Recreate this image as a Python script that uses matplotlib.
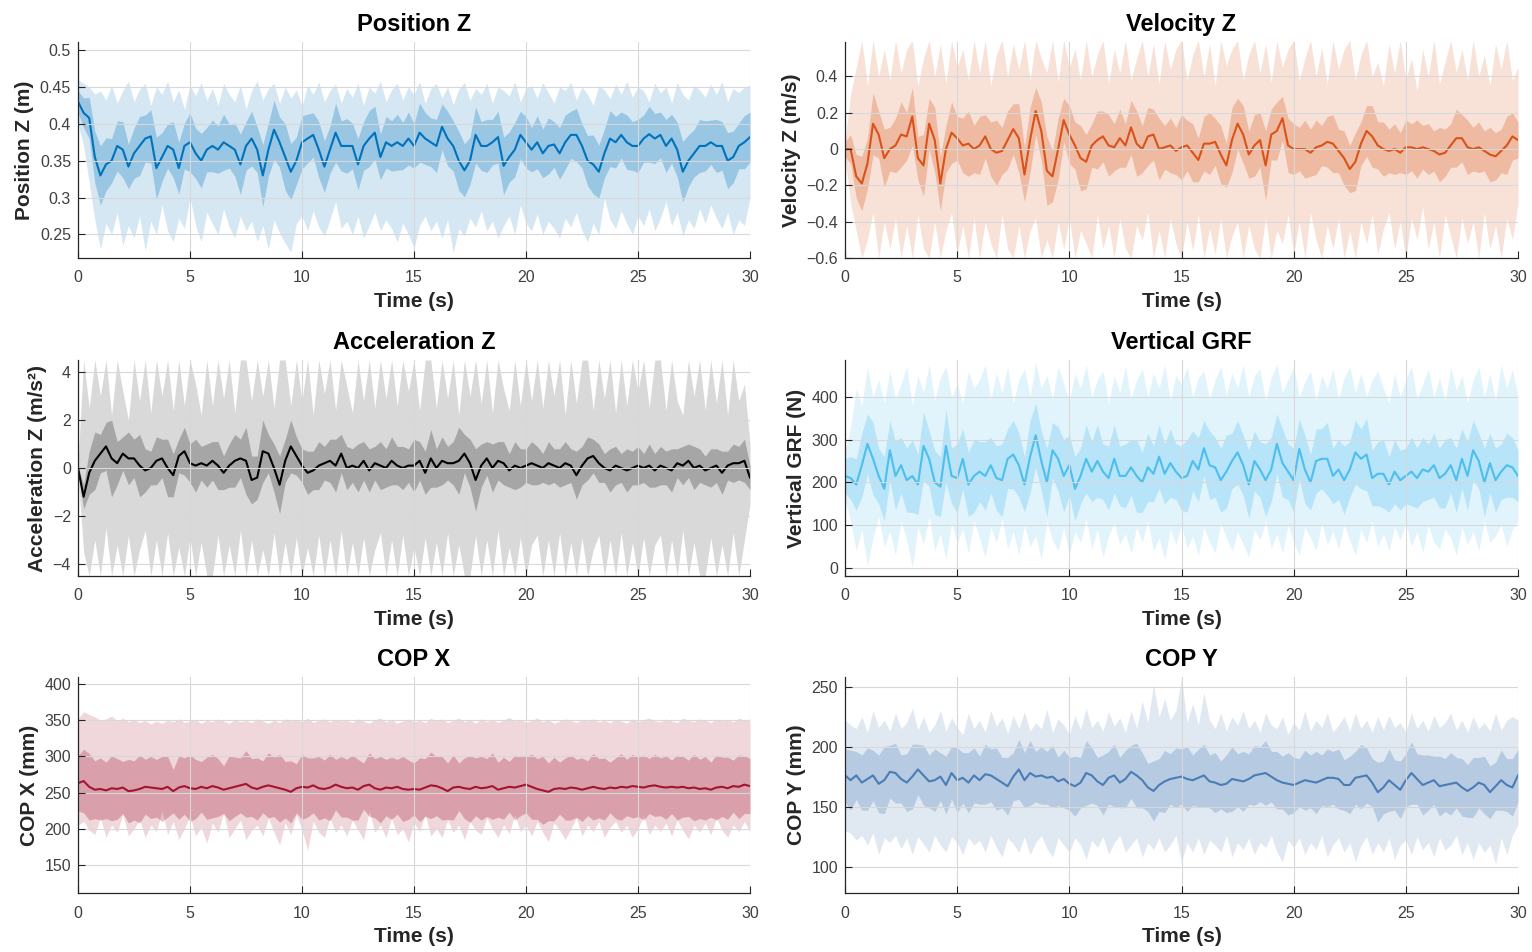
import numpy as np
import matplotlib
matplotlib.use("Agg")
import matplotlib.pyplot as plt

plt.rcParams['font.family'] = ['Liberation Sans', 'DejaVu Sans']

# ---------------- data (sampled every 0.25 s, 0..30 s) ----------------
pos_mean = [0.430, 0.415, 0.408, 0.355, 0.330, 0.345, 0.350, 0.370,
            0.365, 0.342, 0.360, 0.370, 0.380, 0.383, 0.340, 0.355,
            0.370, 0.365, 0.340, 0.370, 0.375, 0.360, 0.350, 0.365,
            0.370, 0.365, 0.375, 0.370, 0.365, 0.345, 0.370, 0.380,
            0.365, 0.330, 0.365, 0.392, 0.375, 0.355, 0.335, 0.350,
            0.375, 0.380, 0.385, 0.365, 0.342, 0.365, 0.388, 0.370,
            0.370, 0.370, 0.345, 0.370, 0.380, 0.388, 0.355, 0.375,
            0.370, 0.375, 0.370, 0.380, 0.370, 0.388, 0.380, 0.375,
            0.370, 0.396, 0.380, 0.370, 0.350, 0.337, 0.350, 0.385,
            0.370, 0.370, 0.375, 0.382, 0.343, 0.355, 0.365, 0.385,
            0.375, 0.365, 0.375, 0.360, 0.370, 0.372, 0.360, 0.375,
            0.385, 0.385, 0.370, 0.350, 0.345, 0.335, 0.360, 0.380,
            0.375, 0.385, 0.375, 0.370, 0.370, 0.380, 0.386, 0.380,
            0.385, 0.370, 0.380, 0.365, 0.335, 0.350, 0.360, 0.370,
            0.370, 0.375, 0.370, 0.370, 0.350, 0.355, 0.370, 0.375,
            0.382]
pos_sd = [0.015, 0.020, 0.028, 0.035, 0.040, 0.036, 0.030, 0.034,
          0.038, 0.030, 0.034, 0.040, 0.032, 0.036, 0.042, 0.033,
          0.030, 0.038, 0.035, 0.031, 0.040, 0.034, 0.037, 0.030,
          0.035, 0.032, 0.038, 0.030, 0.036, 0.041, 0.033, 0.037,
          0.031, 0.042, 0.036, 0.040, 0.034, 0.045, 0.038, 0.032,
          0.036, 0.033, 0.030, 0.038, 0.035, 0.032, 0.040, 0.034,
          0.037, 0.031, 0.035, 0.033, 0.038, 0.036, 0.031, 0.035,
          0.034, 0.038, 0.032, 0.036, 0.030, 0.040, 0.035, 0.033,
          0.036, 0.031, 0.037, 0.034, 0.040, 0.036, 0.032, 0.038,
          0.033, 0.036, 0.031, 0.035, 0.039, 0.034, 0.037, 0.032,
          0.035, 0.030, 0.036, 0.033, 0.038, 0.031, 0.035, 0.037,
          0.032, 0.036, 0.030, 0.034, 0.040, 0.036, 0.033, 0.038,
          0.035, 0.031, 0.037, 0.033, 0.036, 0.032, 0.038, 0.034,
          0.031, 0.036, 0.033, 0.037, 0.041, 0.035, 0.032, 0.036,
          0.034, 0.030, 0.036, 0.033, 0.038, 0.035, 0.031, 0.036,
          0.034]
pos_hi = [0.460, 0.455, 0.450, 0.440, 0.445, 0.432, 0.452, 0.428,
          0.445, 0.458, 0.430, 0.447, 0.455, 0.425, 0.450, 0.440,
          0.458, 0.430, 0.446, 0.420, 0.452, 0.438, 0.456, 0.432,
          0.448, 0.425, 0.455, 0.440, 0.430, 0.452, 0.420, 0.445,
          0.458, 0.432, 0.448, 0.455, 0.428, 0.450, 0.435, 0.446,
          0.424, 0.452, 0.440, 0.457, 0.430, 0.445, 0.454, 0.428,
          0.448, 0.436, 0.455, 0.425, 0.450, 0.442, 0.458, 0.430,
          0.446, 0.455, 0.432, 0.450, 0.440, 0.457, 0.428, 0.448,
          0.455, 0.435, 0.450, 0.426, 0.447, 0.456, 0.432, 0.448,
          0.440, 0.455, 0.428, 0.450, 0.445, 0.438, 0.457, 0.430,
          0.448, 0.452, 0.435, 0.456, 0.442, 0.428, 0.450, 0.445,
          0.456, 0.432, 0.450, 0.440, 0.425, 0.452, 0.446, 0.434,
          0.454, 0.440, 0.458, 0.436, 0.450, 0.445, 0.430, 0.455,
          0.442, 0.450, 0.428, 0.456, 0.440, 0.432, 0.452, 0.446,
          0.436, 0.454, 0.440, 0.457, 0.430, 0.448, 0.442, 0.450,
          0.452]
pos_lo = [0.400, 0.370, 0.320, 0.270, 0.230, 0.265, 0.250, 0.280,
          0.235, 0.262, 0.245, 0.275, 0.228, 0.268, 0.250, 0.290,
          0.255, 0.240, 0.272, 0.258, 0.300, 0.262, 0.240, 0.280,
          0.265, 0.250, 0.285, 0.260, 0.245, 0.275, 0.255, 0.268,
          0.240, 0.262, 0.230, 0.270, 0.252, 0.238, 0.226, 0.265,
          0.275, 0.255, 0.282, 0.260, 0.248, 0.270, 0.295, 0.258,
          0.268, 0.250, 0.275, 0.245, 0.262, 0.280, 0.255, 0.270,
          0.258, 0.240, 0.265, 0.250, 0.232, 0.262, 0.275, 0.255,
          0.268, 0.245, 0.270, 0.225, 0.258, 0.248, 0.272, 0.260,
          0.282, 0.255, 0.268, 0.245, 0.262, 0.275, 0.250, 0.290,
          0.265, 0.255, 0.278, 0.250, 0.268, 0.258, 0.245, 0.272,
          0.260, 0.280, 0.255, 0.240, 0.265, 0.250, 0.300, 0.270,
          0.258, 0.282, 0.265, 0.250, 0.275, 0.262, 0.285, 0.255,
          0.272, 0.295, 0.262, 0.280, 0.248, 0.270, 0.258, 0.285,
          0.265, 0.290, 0.272, 0.258, 0.280, 0.250, 0.270, 0.262,
          0.300]

vel_mean = [0.00, 0.00, -0.15, -0.19, -0.08, 0.14, 0.08, -0.05,
            0.00, 0.02, 0.08, 0.07, 0.18, -0.05, -0.09, 0.14,
            0.05, -0.19, 0.00, 0.09, 0.06, 0.02, 0.03, 0.00,
            0.02, 0.07, 0.00, -0.02, -0.01, 0.05, 0.11, 0.06,
            -0.14, 0.05, 0.21, 0.10, -0.12, -0.15, 0.00, 0.16,
            0.08, 0.02, -0.05, -0.07, 0.02, 0.05, 0.07, 0.02,
            0.01, 0.06, 0.02, 0.12, 0.03, 0.00, 0.07, 0.08,
            0.00, 0.01, 0.02, -0.01, 0.01, 0.02, -0.02, -0.06,
            0.03, 0.03, 0.04, -0.03, -0.09, 0.05, 0.14, 0.08,
            -0.03, 0.02, 0.05, -0.09, 0.08, 0.10, 0.17, 0.02,
            0.00, 0.00, 0.00, -0.02, 0.01, 0.02, 0.04, 0.03,
            -0.01, -0.05, -0.11, -0.07, 0.03, 0.10, 0.07, 0.02,
            0.00, -0.01, 0.00, -0.02, 0.01, 0.01, 0.00, 0.01,
            0.00, -0.01, -0.03, -0.02, 0.02, 0.06, 0.06, 0.01,
            0.00, 0.01, -0.01, -0.03, -0.04, -0.01, 0.02, 0.07,
            0.05]
vel_sd = [0.04, 0.08, 0.12, 0.15, 0.14, 0.17, 0.13, 0.16,
          0.12, 0.15, 0.18, 0.13, 0.16, 0.12, 0.17, 0.14,
          0.18, 0.15, 0.13, 0.17, 0.12, 0.15, 0.18, 0.13,
          0.16, 0.12, 0.15, 0.18, 0.13, 0.16, 0.14, 0.19,
          0.15, 0.18, 0.13, 0.16, 0.19, 0.14, 0.17, 0.12,
          0.16, 0.13, 0.18, 0.15, 0.12, 0.16, 0.14, 0.17,
          0.13, 0.16, 0.12, 0.15, 0.18, 0.13, 0.16, 0.14,
          0.17, 0.12, 0.15, 0.13, 0.18, 0.14, 0.16, 0.12,
          0.15, 0.17, 0.13, 0.16, 0.12, 0.18, 0.14, 0.16,
          0.13, 0.17, 0.15, 0.19, 0.14, 0.16, 0.12, 0.15,
          0.14, 0.12, 0.16, 0.13, 0.15, 0.11, 0.14, 0.16,
          0.12, 0.15, 0.13, 0.16, 0.12, 0.14, 0.17, 0.13,
          0.15, 0.12, 0.14, 0.11, 0.15, 0.13, 0.16, 0.12,
          0.14, 0.11, 0.15, 0.13, 0.12, 0.16, 0.13, 0.15,
          0.12, 0.14, 0.11, 0.15, 0.13, 0.12, 0.16, 0.13,
          0.10]
vel_hi = [0.05, 0.30, 0.45, 0.60, 0.35, 0.60, 0.40, 0.55,
          0.38, 0.60, 0.42, 0.55, 0.60, 0.35, 0.50, 0.60,
          0.40, 0.58, 0.36, 0.60, 0.45, 0.55, 0.38, 0.60,
          0.42, 0.60, 0.35, 0.52, 0.60, 0.40, 0.58, 0.44,
          0.60, 0.38, 0.60, 0.50, 0.42, 0.60, 0.37, 0.60,
          0.45, 0.55, 0.38, 0.60, 0.40, 0.52, 0.60, 0.36,
          0.55, 0.42, 0.60, 0.38, 0.50, 0.60, 0.40, 0.58,
          0.36, 0.60, 0.44, 0.55, 0.60, 0.38, 0.52, 0.60,
          0.40, 0.58, 0.35, 0.60, 0.46, 0.55, 0.60, 0.38,
          0.52, 0.60, 0.42, 0.58, 0.37, 0.60, 0.45, 0.55,
          0.60, 0.38, 0.50, 0.60, 0.40, 0.56, 0.36, 0.60,
          0.44, 0.55, 0.60, 0.38, 0.52, 0.60, 0.40, 0.48,
          0.35, 0.58, 0.42, 0.60, 0.38, 0.50, 0.32, 0.55,
          0.40, 0.60, 0.36, 0.48, 0.60, 0.42, 0.55, 0.38,
          0.60, 0.40, 0.52, 0.35, 0.58, 0.44, 0.60, 0.38,
          0.45]
vel_lo = [-0.05, -0.30, -0.45, -0.60, -0.50, -0.35, -0.60, -0.40,
          -0.55, -0.38, -0.60, -0.42, -0.60, -0.36, -0.55, -0.60,
          -0.40, -0.60, -0.45, -0.35, -0.58, -0.42, -0.60, -0.38,
          -0.60, -0.40, -0.52, -0.60, -0.36, -0.55, -0.60, -0.42,
          -0.60, -0.45, -0.38, -0.60, -0.50, -0.60, -0.40, -0.55,
          -0.38, -0.60, -0.45, -0.52, -0.60, -0.36, -0.55, -0.42,
          -0.60, -0.38, -0.55, -0.60, -0.42, -0.50, -0.35, -0.60,
          -0.45, -0.60, -0.38, -0.52, -0.60, -0.40, -0.56, -0.36,
          -0.60, -0.44, -0.58, -0.38, -0.60, -0.48, -0.40, -0.60,
          -0.42, -0.55, -0.60, -0.38, -0.60, -0.45, -0.52, -0.36,
          -0.58, -0.40, -0.60, -0.35, -0.50, -0.60, -0.42, -0.55,
          -0.38, -0.60, -0.45, -0.60, -0.40, -0.52, -0.36, -0.58,
          -0.44, -0.35, -0.55, -0.40, -0.60, -0.38, -0.50, -0.32,
          -0.55, -0.40, -0.60, -0.36, -0.48, -0.60, -0.38, -0.52,
          -0.40, -0.60, -0.35, -0.55, -0.42, -0.60, -0.38, -0.50,
          -0.30]

acc_mean = [0.0, -1.2, -0.2, 0.3, 0.6, 0.9, 0.4, 0.2,
            0.6, 0.4, 0.4, 0.1, -0.1, 0.0, 0.3, 0.4,
            0.0, -0.3, 0.5, 0.7, 0.2, 0.1, 0.2, 0.1,
            0.3, 0.1, -0.2, 0.1, 0.3, 0.4, 0.3, -0.5,
            -0.4, 0.7, 0.6, 0.0, -0.7, 0.3, 0.9, 0.5,
            0.1, -0.2, -0.1, 0.1, 0.2, 0.3, 0.1, 0.6,
            0.0, 0.1, 0.0, 0.3, -0.1, 0.2, 0.1, 0.0,
            0.3, 0.1, 0.0, 0.1, 0.1, 0.3, -0.2, 0.4,
            0.0, 0.3, 0.2, 0.2, 0.3, 0.6, 0.2, -0.5,
            0.1, 0.4, 0.0, 0.3, 0.2, -0.1, 0.1, 0.0,
            0.1, 0.2, 0.1, 0.0, 0.2, 0.1, 0.0, 0.2,
            0.1, -0.3, 0.1, 0.4, 0.5, 0.2, 0.0, -0.1,
            0.1, 0.0, -0.1, 0.0, 0.1, 0.0, 0.1, -0.1,
            0.1, 0.0, -0.1, 0.2, 0.1, 0.3, 0.0, 0.1,
            -0.1, 0.0, 0.1, -0.2, 0.1, 0.2, 0.2, 0.3,
            -0.4]
acc_sd = [0.1, 0.5, 0.9, 1.2, 0.8, 1.0, 1.6, 0.9,
          0.7, 1.1, 0.8, 1.3, 0.9, 0.7, 1.0, 0.8,
          1.2, 0.9, 0.7, 1.0, 0.8, 1.1, 0.7, 0.9,
          0.8, 1.0, 0.7, 0.9, 1.1, 0.8, 1.4, 1.0,
          0.9, 1.3, 0.8, 1.0, 1.2, 0.9, 1.1, 0.8,
          0.7, 0.9, 0.8, 1.0, 0.7, 0.9, 1.1, 0.8,
          0.9, 0.7, 1.0, 0.8, 0.9, 0.7, 1.0, 0.8,
          1.0, 0.8, 0.9, 0.7, 1.1, 0.8, 0.9, 1.2,
          0.8, 1.0, 0.7, 0.9, 1.4, 0.8, 1.0, 1.3,
          0.9, 0.7, 1.0, 0.8, 0.9, 0.7, 1.0, 0.8,
          0.7, 0.9, 0.8, 0.6, 0.9, 0.7, 0.8, 0.9,
          0.7, 1.0, 0.8, 0.9, 0.7, 0.8, 0.6, 0.9,
          0.8, 0.6, 0.9, 0.7, 0.8, 0.6, 0.9, 0.7,
          0.8, 0.7, 0.9, 0.6, 0.8, 0.7, 0.9, 0.7,
          0.6, 0.8, 0.7, 0.9, 0.6, 0.8, 0.7, 0.9,
          0.5]
acc_hi = [0.2, 4.5, 2.5, 4.5, 3.0, 4.5, 2.2, 4.5,
          3.2, 2.0, 4.5, 2.8, 4.5, 2.3, 4.5, 3.0,
          4.5, 2.4, 4.5, 2.6, 4.5, 3.5, 2.2, 4.5,
          2.6, 4.5, 2.9, 4.5, 2.3, 4.5, 4.5, 2.8,
          4.5, 3.0, 4.5, 2.5, 4.5, 4.5, 2.6, 4.5,
          2.8, 4.5, 2.2, 4.5, 3.1, 4.5, 2.4, 4.5,
          3.4, 2.3, 4.5, 2.8, 4.5, 2.5, 4.5, 2.9,
          4.5, 2.6, 4.5, 3.2, 4.5, 2.4, 4.5, 4.5,
          2.5, 4.5, 2.9, 4.5, 2.2, 4.5, 3.0, 4.5,
          2.7, 4.5, 2.3, 4.5, 3.3, 2.4, 4.5, 2.6,
          4.5, 2.8, 4.5, 2.5, 4.5, 3.0, 4.5, 2.2,
          4.5, 2.7, 4.5, 4.5, 2.4, 4.5, 2.9, 4.5,
          2.3, 4.5, 2.6, 4.5, 3.2, 4.5, 2.5, 4.5,
          4.5, 2.4, 4.5, 2.8, 2.2, 4.5, 3.0, 4.5,
          2.4, 4.5, 2.7, 4.5, 2.2, 4.5, 2.8, 3.5,
          1.0]
acc_lo = [-0.2, -3.5, -4.5, -3.0, -4.5, -2.5, -4.5, -3.2,
          -4.5, -2.8, -4.5, -3.4, -2.6, -4.5, -3.0, -4.5,
          -2.7, -4.5, -3.3, -4.5, -2.9, -4.5, -3.1, -4.5,
          -4.5, -2.8, -4.5, -3.2, -4.5, -2.6, -4.5, -3.0,
          -4.5, -3.4, -4.5, -2.7, -4.5, -3.1, -4.5, -2.9,
          -4.5, -3.3, -4.5, -2.8, -4.5, -3.0, -4.5, -2.6,
          -4.5, -3.1, -4.5, -2.9, -4.5, -3.4, -2.7, -4.5,
          -3.0, -4.5, -2.8, -4.5, -3.3, -4.5, -2.9, -4.5,
          -3.1, -4.5, -2.7, -4.5, -3.2, -4.5, -4.5, -2.8,
          -4.5, -3.0, -4.5, -2.6, -4.5, -3.3, -4.5, -2.9,
          -4.5, -3.2, -2.8, -4.5, -3.0, -4.5, -2.7, -4.5,
          -3.1, -4.5, -2.9, -4.5, -3.4, -2.8, -4.5, -3.0,
          -4.5, -2.7, -4.5, -3.1, -4.5, -2.9, -4.5, -3.2,
          -2.8, -4.5, -3.0, -4.5, -2.6, -4.5, -3.1, -4.5,
          -4.5, -2.9, -4.5, -3.2, -4.5, -2.7, -4.5, -3.0,
          -1.5]

grf_mean = [215, 210, 195, 240, 290, 255, 215, 185,
            275, 215, 240, 205, 215, 195, 285, 255,
            200, 190, 285, 215, 210, 255, 195, 215,
            225, 215, 240, 210, 205, 255, 265, 240,
            195, 260, 310, 250, 200, 275, 255, 215,
            240, 185, 215, 255, 225, 250, 225, 210,
            255, 215, 215, 235, 215, 200, 235, 220,
            260, 220, 245, 225, 210, 215, 250, 230,
            280, 240, 235, 205, 225, 250, 270, 240,
            195, 250, 230, 205, 230, 290, 245, 225,
            205, 278, 230, 200, 250, 255, 255, 215,
            230, 205, 230, 270, 255, 265, 210, 220,
            220, 195, 225, 205, 215, 225, 210, 230,
            225, 240, 210, 220, 240, 205, 255, 215,
            275, 250, 200, 245, 205, 225, 240, 235,
            215]
grf_sd = [40, 50, 60, 75, 70, 85, 65, 75,
          70, 80, 65, 75, 85, 70, 80, 65,
          75, 70, 85, 65, 80, 70, 75, 85,
          70, 80, 65, 75, 85, 70, 80, 75,
          65, 85, 75, 70, 80, 65, 75, 85,
          70, 75, 65, 80, 70, 85, 65, 75,
          80, 70, 75, 65, 85, 70, 80, 65,
          75, 70, 80, 65, 75, 85, 70, 75,
          65, 80, 70, 75, 85, 65, 75, 70,
          80, 70, 65, 85, 75, 70, 80, 65,
          75, 70, 80, 65, 75, 70, 85, 65,
          70, 80, 65, 75, 70, 85, 65, 75,
          80, 65, 75, 70, 65, 80, 70, 75,
          65, 75, 70, 80, 65, 75, 70, 80,
          70, 65, 80, 70, 75, 65, 75, 70,
          60]
grf_hi = [270, 330, 420, 380, 470, 400, 440, 385,
          460, 395, 430, 470, 380, 450, 410, 475,
          390, 445, 470, 400, 430, 385, 460, 420,
          440, 475, 395, 455, 410, 470, 385, 440,
          465, 400, 480, 420, 450, 395, 470, 430,
          390, 455, 420, 475, 400, 440, 460, 385,
          450, 410, 470, 395, 440, 465, 400, 455,
          420, 475, 390, 450, 430, 470, 400, 445,
          460, 395, 440, 470, 405, 455, 420, 475,
          400, 450, 465, 390, 445, 475, 410, 440,
          470, 400, 435, 460, 390, 450, 420, 465,
          395, 445, 470, 410, 455, 400, 440, 460,
          420, 385, 455, 400, 440, 470, 395, 430,
          465, 400, 445, 390, 470, 415, 450, 385,
          440, 470, 400, 455, 390, 475, 420, 465,
          400]
grf_lo = [160, 110, 40, 90, 5, 70, 120, 50,
          85, 30, 110, 65, 0, 95, 55, 120,
          40, 80, 20, 105, 60, 90, 35, 110,
          70, 25, 95, 60, 115, 45, 85, 30,
          100, 50, 75, 20, 110, 65, 40, 95,
          30, 85, 60, 115, 45, 90, 25, 75,
          105, 55, 80, 35, 95, 60, 110, 40,
          70, 20, 90, 55, 100, 45, 75, 30,
          95, 60, 35, 105, 70, 40, 85, 55,
          25, 90, 65, 110, 45, 80, 35, 100,
          60, 30, 95, 70, 40, 105, 55, 85,
          45, 100, 65, 30, 90, 60, 110, 50,
          80, 40, 95, 65, 105, 50, 85, 35,
          100, 60, 45, 90, 70, 30, 95, 55,
          85, 40, 110, 60, 75, 100, 50, 90,
          110]

copx_mean = [263, 266, 258, 254, 255, 253, 256, 255,
             257, 252, 253, 255, 258, 257, 256, 255,
             258, 252, 257, 259, 256, 255, 258, 256,
             259, 257, 254, 256, 258, 260, 262, 257,
             255, 258, 260, 258, 256, 254, 251, 256,
             258, 257, 260, 256, 255, 257, 261, 258,
             256, 257, 254, 259, 261, 256, 254, 257,
             256, 258, 255, 254, 255, 254, 257, 260,
             259, 256, 252, 257, 258, 256, 255, 258,
             256, 257, 259, 254, 256, 258, 257, 259,
             261, 258, 255, 253, 251, 255, 256, 255,
             257, 256, 254, 256, 258, 256, 255, 257,
             256, 258, 257, 259, 258, 257, 259, 260,
             258, 257, 258, 257, 258, 256, 257, 255,
             256, 254, 257, 258, 256, 259, 258, 261,
             259]
copx_sd = [38, 44, 46, 40, 43, 39, 45, 42,
           36, 44, 41, 47, 38, 43, 40, 45,
           42, 30, 44, 39, 46, 41, 35, 43,
           44, 40, 33, 45, 41, 38, 46, 40,
           43, 36, 45, 41, 47, 39, 43, 34,
           45, 41, 38, 44, 40, 46, 35, 42,
           40, 45, 42, 32, 44, 41, 46, 39,
           43, 38, 45, 41, 36, 44, 40, 46,
           41, 44, 39, 45, 33, 42, 46, 40,
           44, 40, 46, 38, 43, 35, 45, 41,
           39, 45, 42, 47, 40, 44, 36, 43,
           45, 40, 44, 38, 46, 41, 43, 35,
           42, 46, 39, 44, 41, 45, 38, 43,
           40, 44, 37, 45, 42, 39, 46, 41,
           44, 38, 45, 41, 43, 36, 44, 40,
           38]
copx_hi = [352, 362, 358, 355, 350, 352, 356, 349,
           353, 348, 351, 347, 350, 345, 349, 346,
           350, 348, 352, 347, 349, 351, 346, 350,
           348, 352, 349, 346, 351, 348, 350, 347,
           352, 349, 346, 350, 347, 352, 349, 351,
           348, 353, 347, 350, 352, 348, 351, 349,
           350, 347, 352, 349, 346, 351, 353, 348,
           351, 346, 349, 352, 348, 350, 347, 353,
           349, 352, 347, 350, 353, 348, 351, 346,
           352, 348, 351, 347, 350, 354, 349, 351,
           347, 350, 353, 348, 351, 346, 349, 352,
           350, 347, 351, 349, 352, 348, 350, 347,
           351, 349, 346, 352, 348, 351, 353, 349,
           348, 352, 349, 347, 353, 350, 348, 352,
           350, 347, 352, 349, 351, 348, 353, 350,
           352]
copx_lo = [205, 210, 198, 192, 215, 188, 205, 195,
           220, 190, 200, 212, 188, 205, 196, 225,
           192, 210, 185, 200, 218, 190, 202, 180,
           208, 195, 222, 188, 200, 212, 185, 198,
           205, 190, 215, 195, 178, 208, 192, 220,
           198, 170, 210, 195, 188, 215, 195, 205,
           190, 212, 198, 185, 225, 195, 205, 188,
           215, 192, 200, 182, 208, 196, 220, 190,
           200, 188, 212, 195, 205, 185, 210, 198,
           192, 215, 200, 188, 206, 193, 220, 196,
           205, 190, 210, 195, 182, 208, 198, 185,
           200, 215, 190, 205, 196, 210, 188, 202,
           210, 195, 205, 188, 200, 218, 192, 205,
           196, 208, 190, 212, 198, 186, 205, 195,
           208, 192, 215, 198, 188, 205, 196, 210,
           196]

copy_mean = [176, 172, 176, 170, 173, 176, 169, 172,
             179, 178, 173, 170, 175, 181, 176, 171,
             172, 175, 168, 178, 172, 174, 170, 176,
             172, 177, 176, 173, 170, 167, 175, 181,
             172, 178, 175, 176, 174, 175, 171, 173,
             169, 167, 170, 178, 176, 171, 168, 174,
             176, 170, 173, 179, 176, 172, 166, 163,
             168, 171, 173, 174, 175, 173, 172, 174,
             176, 171, 170, 168, 169, 173, 172, 171,
             173, 176, 177, 178, 175, 172, 170, 169,
             168, 170, 172, 171, 170, 172, 174, 174,
             173, 168, 168, 174, 175, 176, 170, 162,
             166, 172, 168, 164, 172, 178, 173, 168,
             170, 172, 167, 168, 169, 170, 166, 163,
             166, 170, 168, 162, 167, 172, 168, 166,
             176]
copy_sd = [22, 25, 20, 23, 26, 21, 24, 28,
           22, 25, 20, 24, 27, 21, 25, 22,
           26, 20, 24, 22, 27, 21, 25, 23,
           20, 25, 22, 26, 21, 24, 20, 25,
           23, 27, 21, 24, 22, 26, 20, 24,
           22, 25, 21, 27, 23, 20, 25, 22,
           26, 21, 24, 22, 27, 23, 20, 25,
           22, 26, 21, 25, 23, 27, 21, 24,
           26, 22, 25, 20, 24, 27, 22, 25,
           21, 25, 23, 27, 21, 24, 22, 26,
           23, 20, 25, 22, 26, 21, 24, 22,
           25, 21, 24, 22, 27, 23, 20, 25,
           22, 26, 21, 24, 22, 26, 21, 25,
           23, 20, 25, 22, 26, 21, 24, 22,
           25, 21, 24, 22, 20, 25, 22, 24,
           22]
copy_hi = [222, 218, 215, 225, 212, 230, 216, 222,
           213, 228, 215, 220, 232, 214, 225, 212,
           218, 230, 213, 224, 216, 210, 228, 215,
           222, 212, 230, 217, 224, 211, 226, 215,
           229, 213, 220, 215, 231, 212, 223, 218,
           210, 226, 214, 232, 216, 222, 213, 229,
           217, 224, 212, 230, 215, 238, 220, 252,
           225, 240, 222, 230, 257, 220, 236, 218,
           245, 222, 215, 228, 213, 225, 218, 230,
           215, 222, 212, 228, 218, 215, 225, 210,
           220, 214, 230, 213, 222, 216, 228, 212,
           218, 225, 213, 228, 215, 222, 212, 225,
           214, 226, 216, 220, 212, 228, 215, 222,
           213, 226, 216, 220, 228, 214, 222, 212,
           225, 215, 220, 213, 228, 214, 222, 225,
           222]
copy_lo = [130, 128, 122, 126, 118, 128, 110, 124,
           120, 126, 115, 124, 110, 125, 119, 112,
           126, 118, 112, 125, 120, 110, 124, 118,
           122, 112, 126, 116, 108, 124, 119, 112,
           125, 110, 120, 126, 115, 108, 124, 118,
           112, 124, 118, 106, 122, 116, 125, 110,
           120, 126, 112, 118, 124, 108, 120, 114,
           124, 112, 118, 126, 104, 120, 112, 124,
           110, 122, 118, 112, 126, 108, 120, 114,
           124, 110, 120, 116, 126, 112, 104, 122,
           116, 124, 110, 120, 114, 126, 108, 118,
           124, 112, 120, 104, 118, 125, 110, 120,
           112, 124, 106, 118, 122, 110, 125, 114,
           120, 108, 124, 114, 118, 126, 110, 120,
           106, 120, 112, 118, 102, 124, 110, 126,
           135]

titles = ['Position Z', 'Velocity Z', 'Acceleration Z', 'Vertical GRF', 'COP X', 'COP Y']
ylabels = ['Position Z (m)', 'Velocity Z (m/s)', 'Acceleration Z (m/s\u00b2)',
           'Vertical GRF (N)', 'COP X (mm)', 'COP Y (mm)']
colors = ['#0072BD', '#D95319', '#000000', '#4DBEEE', '#A2142F', '#4A7DB5']
ylims = [(0.218, 0.511), (-0.6, 0.59), (-4.5, 4.5), (-19, 486), (111, 410), (78, 258)]
yticks = [[0.25, 0.3, 0.35, 0.4, 0.45, 0.5],
          [-0.6, -0.4, -0.2, 0, 0.2, 0.4],
          [-4, -2, 0, 2, 4],
          [0, 100, 200, 300, 400],
          [150, 200, 250, 300, 350, 400],
          [100, 150, 200, 250]]
yticklabels = [['0.25', '0.3', '0.35', '0.4', '0.45', '0.5'],
               ['\u22120.6', '\u22120.4', '\u22120.2', '0', '0.2', '0.4'],
               ['\u22124', '\u22122', '0', '2', '4'],
               ['0', '100', '200', '300', '400'],
               ['150', '200', '250', '300', '350', '400'],
               ['100', '150', '200', '250']]
series = [(pos_mean, pos_sd, pos_lo, pos_hi),
          (vel_mean, vel_sd, vel_lo, vel_hi),
          (acc_mean, acc_sd, acc_lo, acc_hi),
          (grf_mean, grf_sd, grf_lo, grf_hi),
          (copx_mean, copx_sd, copx_lo, copx_hi),
          (copy_mean, copy_sd, copy_lo, copy_hi)]

W, H = 1532, 952
fig = plt.figure(figsize=(W / 100, H / 100), dpi=100)

lefts = [78, 845]
tops = [42, 360, 677]
aw, ah = 672, 216

for i in range(6):
    r, c = divmod(i, 2)
    ax = fig.add_axes([lefts[c] / W, (H - tops[r] - ah) / H, (aw + c) / W, ah / H])
    m, sd, lo, hi = [np.asarray(a, float) for a in series[i]]
    t = np.linspace(0, 30, len(m))
    col = colors[i]
    if i == 2:
        ax.fill_between(t, lo, hi, color='#D9D9D9', lw=0)
        ax.fill_between(t, m - sd, m + sd, color='#A6A6A6', lw=0)
    else:
        ax.fill_between(t, lo, hi, color=col, alpha=0.17, lw=0)
        ax.fill_between(t, m - sd, m + sd, color=col, alpha=0.28, lw=0)
    ax.plot(t, m, color=col, lw=1.5)

    ax.set_xlim(0, 30)
    ax.set_ylim(*ylims[i])
    ax.set_xticks(range(0, 31, 5))
    ax.set_yticks(yticks[i])
    ax.set_yticklabels(yticklabels[i])
    ax.grid(True, color='#D8D8D8', lw=0.8)
    ax.set_axisbelow(False)
    for s in ['top', 'right']:
        ax.spines[s].set_visible(False)
    for s in ['left', 'bottom']:
        ax.spines[s].set_color('#262626')
        ax.spines[s].set_linewidth(0.9)
        ax.spines[s].set_zorder(5)
    ax.tick_params(direction='in', length=5, width=0.8, colors='#262626',
                   labelcolor='#404040', labelsize=11.5)
    ax.tick_params(axis='x', pad=9)
    ax.tick_params(axis='y', pad=5)
    ax.set_title(titles[i], fontsize=17, fontweight='bold', pad=8)
    ax.set_xlabel('Time (s)', fontsize=15, fontweight='bold', labelpad=5, color='#262626')
    ax.set_ylabel(ylabels[i], fontsize=15, fontweight='bold', labelpad=4, color='#262626')

fig.savefig('out.png', dpi=100)
